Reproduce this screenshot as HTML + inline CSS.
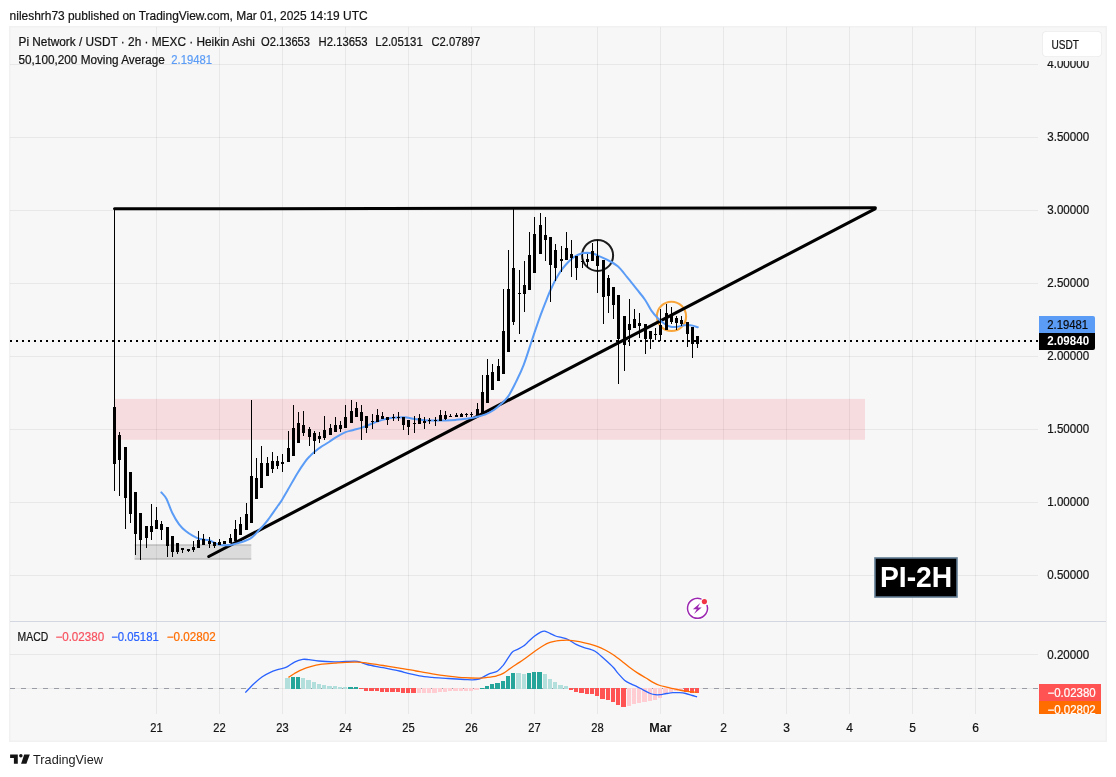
<!DOCTYPE html>
<html lang="en"><head><meta charset="utf-8"><title>Pi Network / USDT chart</title>
<style>html,body{margin:0;padding:0;background:#fff;}body{width:1116px;height:777px;overflow:hidden;font-family:"Liberation Sans", sans-serif;}svg{display:block}</style>
</head><body>
<svg width="1116" height="777" viewBox="0 0 1116 777" font-family='"Liberation Sans", sans-serif'>
<rect width="1116" height="777" fill="#fff"/>
<text x="9.6" y="19.6" font-size="13" fill="#141414" textLength="358" lengthAdjust="spacingAndGlyphs" stroke="#141414" stroke-width="0.22" >nileshrh73 published on TradingView.com, Mar 01, 2025 14:19 UTC</text>
<rect x="9" y="26" width="1098" height="716" fill="#f1f1f1"/>
<rect x="10.5" y="27.5" width="1095" height="713" fill="#f7f7f7"/>
<g shape-rendering="crispEdges" fill="#000" fill-opacity="0.06">
<rect x="156" y="27" width="1" height="594"/><rect x="156" y="622" width="1" height="92"/>
<rect x="219" y="27" width="1" height="594"/><rect x="219" y="622" width="1" height="92"/>
<rect x="282" y="27" width="1" height="594"/><rect x="282" y="622" width="1" height="92"/>
<rect x="345" y="27" width="1" height="594"/><rect x="345" y="622" width="1" height="92"/>
<rect x="408" y="27" width="1" height="594"/><rect x="408" y="622" width="1" height="92"/>
<rect x="471" y="27" width="1" height="594"/><rect x="471" y="622" width="1" height="92"/>
<rect x="534" y="27" width="1" height="594"/><rect x="534" y="622" width="1" height="92"/>
<rect x="597" y="27" width="1" height="594"/><rect x="597" y="622" width="1" height="92"/>
<rect x="660" y="27" width="1" height="594"/><rect x="660" y="622" width="1" height="92"/>
<rect x="723" y="27" width="1" height="594"/><rect x="723" y="622" width="1" height="92"/>
<rect x="786" y="27" width="1" height="594"/><rect x="786" y="622" width="1" height="92"/>
<rect x="849" y="27" width="1" height="594"/><rect x="849" y="622" width="1" height="92"/>
<rect x="912" y="27" width="1" height="594"/><rect x="912" y="622" width="1" height="92"/>
<rect x="975" y="27" width="1" height="594"/><rect x="975" y="622" width="1" height="92"/>
<rect x="10" y="64" width="1028" height="1"/>
<rect x="10" y="137" width="1028" height="1"/>
<rect x="10" y="210" width="1028" height="1"/>
<rect x="10" y="283" width="1028" height="1"/>
<rect x="10" y="356" width="1028" height="1"/>
<rect x="10" y="429" width="1028" height="1"/>
<rect x="10" y="502" width="1028" height="1"/>
<rect x="10" y="575" width="1028" height="1"/>
<rect x="10" y="654" width="1028" height="1"/><rect x="10" y="688" width="1028" height="1"/>
</g>
<rect x="10" y="621" width="1096" height="1" fill="#d4d7e1" shape-rendering="crispEdges"/>
<rect x="114.5" y="398.9" width="750.5" height="40.9" fill="#f23645" fill-opacity="0.14"/>
<rect x="134.6" y="544.2" width="116.7" height="15.6" fill="#000" fill-opacity="0.11"/>
<rect x="134.6" y="544.3" width="116.7" height="1.6" fill="#000" fill-opacity="0.12"/><rect x="134.6" y="558.1" width="116.7" height="1.6" fill="#000" fill-opacity="0.12"/>
<line x1="10" y1="341" x2="1039" y2="341" stroke="#000" stroke-width="2" stroke-dasharray="2 4" shape-rendering="crispEdges"/>
<circle cx="597.6" cy="255.4" r="15.5" fill="none" stroke="#1c1c1c" stroke-width="2"/>
<circle cx="671.5" cy="316.4" r="14.6" fill="none" stroke="#f8a63c" stroke-width="2.1"/>
<g stroke="#000" stroke-linecap="round" fill="none">
<line x1="114.5" y1="208.85" x2="875.4" y2="207.85" stroke-width="3"/>
<line x1="208.8" y1="556.5" x2="875" y2="208.9" stroke-width="3.1"/>
</g>
<path d="M161.3,492.4C162.2,493.5 164.6,495.4 166.4,498.8C168.2,502.2 170.1,508.5 172.2,512.7C174.3,517.0 176.8,521.2 179.1,524.3C181.4,527.4 183.7,529.4 186.0,531.3C188.3,533.2 190.7,534.6 193.0,535.9C195.3,537.2 197.3,538.3 200.0,539.0C202.7,539.7 206.9,539.6 209.3,540.3C211.7,541.0 212.9,542.3 214.6,543.0C216.3,543.7 217.5,544.3 219.3,544.7C221.1,545.1 223.4,545.3 225.4,545.3C227.4,545.3 229.5,545.1 231.6,544.8C233.7,544.4 235.7,543.8 237.8,543.2C239.9,542.6 241.9,542.1 244.0,541.3C246.1,540.5 248.4,539.7 250.2,538.6C252.0,537.5 253.3,536.2 254.8,534.7C256.3,533.2 257.8,531.4 259.4,529.7C260.9,528.0 262.6,526.5 264.1,524.7C265.7,522.9 267.2,521.0 268.7,518.9C270.2,516.8 271.8,514.6 273.3,512.4C274.8,510.2 276.5,507.8 277.9,505.8C279.3,503.8 280.1,502.9 281.8,500.2C283.5,497.5 285.4,494.1 288.0,489.6C290.6,485.1 294.5,478.0 297.3,473.4C300.1,468.8 302.8,464.8 305.0,461.8C307.2,458.8 308.8,457.3 310.4,455.6C312.0,453.9 312.9,453.2 314.6,451.8C316.3,450.4 318.3,448.8 320.7,447.2C323.1,445.6 326.4,443.7 329.0,442.0C331.6,440.3 333.4,438.8 336.2,437.2C338.9,435.6 342.8,433.4 345.5,432.2C348.2,431.0 350.0,431.0 352.7,430.2C355.4,429.4 358.6,428.7 361.9,427.6C365.1,426.5 368.8,424.8 372.2,423.5C375.6,422.2 379.1,420.8 382.5,419.9C385.9,418.9 389.4,418.2 392.8,417.8C396.2,417.4 400.5,417.2 403.1,417.2C405.7,417.2 406.4,417.5 408.3,417.8C410.2,418.1 411.8,418.6 414.5,419.0C417.2,419.4 421.4,420.0 424.8,420.2C428.2,420.4 431.7,420.4 435.1,420.4C438.5,420.4 442.0,420.5 445.4,420.4C448.8,420.3 452.3,420.2 455.7,419.9C459.1,419.6 462.6,419.3 466.0,418.8C469.4,418.3 473.1,417.7 476.3,417.0C479.6,416.3 482.6,415.6 485.5,414.4C488.4,413.2 491.2,411.7 493.8,410.0C496.4,408.3 498.6,406.3 501.0,404.0C503.4,401.7 505.7,400.1 508.2,396.4C510.7,392.7 513.4,387.1 516.0,381.9C518.6,376.6 521.0,372.0 523.7,364.9C526.4,357.8 530.0,346.0 532.2,339.5C534.4,333.0 535.2,330.4 536.8,325.8C538.4,321.2 540.2,316.1 541.9,311.6C543.6,307.1 545.4,302.5 546.9,298.8C548.4,295.1 549.3,292.8 550.8,289.5C552.3,286.2 554.1,282.4 555.8,279.3C557.5,276.2 559.2,273.4 560.9,270.9C562.6,268.4 564.3,266.4 566.0,264.5C567.7,262.6 569.5,260.8 571.2,259.3C572.9,257.8 574.6,256.7 576.3,255.7C578.0,254.7 579.8,254.0 581.5,253.5C583.2,253.0 584.6,252.8 586.6,252.8C588.6,252.9 591.6,253.3 593.5,253.8C595.4,254.3 595.8,254.6 598.0,255.6C600.2,256.6 603.7,257.9 607.0,259.7C610.3,261.5 614.4,263.4 617.8,266.3C621.1,269.2 624.0,273.4 627.1,277.1C630.2,280.8 633.3,284.9 636.3,288.7C639.3,292.5 642.5,296.0 645.0,299.7C647.5,303.4 649.2,307.5 651.4,310.6C653.5,313.7 656.0,316.3 657.9,318.3C659.8,320.3 661.4,321.6 663.0,322.8C664.6,324.0 666.0,325.0 667.5,325.7C669.0,326.4 670.4,326.8 672.0,327.0C673.6,327.2 675.5,327.0 677.2,326.8C678.9,326.6 680.6,325.9 682.3,325.6C684.0,325.3 685.8,325.1 687.5,325.1C689.2,325.1 690.9,325.2 692.6,325.6C694.3,326.0 696.9,327.0 697.8,327.3" fill="none" stroke="#5b9cf6" stroke-width="2" stroke-linejoin="round" stroke-linecap="round"/>
<g fill="#000" shape-rendering="crispEdges">
<rect x="114" y="209" width="1" height="282"/><rect x="113" y="407" width="3" height="57"/>
<rect x="119" y="432" width="1" height="64"/><rect x="118" y="435" width="3" height="25"/>
<rect x="125" y="447" width="1" height="82"/><rect x="124" y="447" width="3" height="51"/>
<rect x="130" y="472" width="1" height="51"/><rect x="129" y="472" width="3" height="42"/>
<rect x="135" y="492" width="1" height="63"/><rect x="134" y="492" width="3" height="42"/>
<rect x="140" y="513" width="1" height="47"/><rect x="139" y="513" width="3" height="27"/>
<rect x="146" y="526" width="1" height="22"/><rect x="145" y="526" width="3" height="12"/>
<rect x="151" y="504" width="1" height="36"/><rect x="150" y="526" width="3" height="6"/>
<rect x="156" y="507" width="1" height="22"/><rect x="155" y="520" width="3" height="9"/>
<rect x="161" y="521" width="1" height="19"/><rect x="160" y="524" width="3" height="6"/>
<rect x="167" y="527" width="1" height="30"/><rect x="166" y="527" width="3" height="19"/>
<rect x="172" y="536" width="1" height="21"/><rect x="171" y="536" width="3" height="16"/>
<rect x="177" y="543" width="1" height="11"/><rect x="176" y="543" width="3" height="9"/>
<rect x="182" y="548" width="1" height="5"/><rect x="181" y="548" width="3" height="2"/>
<rect x="188" y="549" width="1" height="3"/><rect x="187" y="549" width="3" height="2"/>
<rect x="193" y="541" width="1" height="11"/><rect x="192" y="547" width="3" height="3"/>
<rect x="198" y="531" width="1" height="17"/><rect x="197" y="540" width="3" height="8"/>
<rect x="203" y="534" width="1" height="11"/><rect x="202" y="539" width="3" height="6"/>
<rect x="209" y="537" width="1" height="11"/><rect x="208" y="541" width="3" height="3"/>
<rect x="214" y="542" width="1" height="6"/><rect x="213" y="542" width="3" height="4"/>
<rect x="219" y="539" width="1" height="6"/><rect x="218" y="542" width="3" height="3"/>
<rect x="224" y="541" width="1" height="3"/><rect x="223" y="541" width="3" height="3"/>
<rect x="230" y="534" width="1" height="9"/><rect x="229" y="538" width="3" height="5"/>
<rect x="235" y="520" width="1" height="21"/><rect x="234" y="529" width="3" height="12"/>
<rect x="240" y="517" width="1" height="18"/><rect x="239" y="524" width="3" height="11"/>
<rect x="246" y="503" width="1" height="27"/><rect x="245" y="514" width="3" height="16"/>
<rect x="251" y="400" width="1" height="123"/><rect x="250" y="476" width="3" height="47"/>
<rect x="256" y="458" width="1" height="41"/><rect x="255" y="478" width="3" height="21"/>
<rect x="261" y="446" width="1" height="42"/><rect x="260" y="463" width="3" height="25"/>
<rect x="267" y="457" width="1" height="19"/><rect x="266" y="463" width="3" height="13"/>
<rect x="272" y="452" width="1" height="21"/><rect x="271" y="461" width="3" height="8"/>
<rect x="277" y="456" width="1" height="13"/><rect x="276" y="461" width="3" height="5"/>
<rect x="282" y="454" width="1" height="18"/><rect x="281" y="462" width="3" height="2"/>
<rect x="288" y="431" width="1" height="31"/><rect x="287" y="448" width="3" height="14"/>
<rect x="293" y="405" width="1" height="51"/><rect x="292" y="428" width="3" height="28"/>
<rect x="298" y="412" width="1" height="31"/><rect x="297" y="423" width="3" height="20"/>
<rect x="303" y="411" width="1" height="25"/><rect x="302" y="425" width="3" height="8"/>
<rect x="309" y="427" width="1" height="19"/><rect x="308" y="429" width="3" height="8"/>
<rect x="314" y="431" width="1" height="23"/><rect x="313" y="433" width="3" height="8"/>
<rect x="319" y="432" width="1" height="11"/><rect x="318" y="436" width="3" height="3"/>
<rect x="324" y="416" width="1" height="24"/><rect x="323" y="430" width="3" height="8"/>
<rect x="330" y="424" width="1" height="11"/><rect x="329" y="428" width="3" height="7"/>
<rect x="335" y="417" width="1" height="15"/><rect x="334" y="425" width="3" height="7"/>
<rect x="340" y="421" width="1" height="11"/><rect x="339" y="425" width="3" height="4"/>
<rect x="345" y="405" width="1" height="23"/><rect x="344" y="417" width="3" height="11"/>
<rect x="351" y="400" width="1" height="23"/><rect x="350" y="411" width="3" height="12"/>
<rect x="356" y="402" width="1" height="15"/><rect x="355" y="408" width="3" height="9"/>
<rect x="361" y="405" width="1" height="35"/><rect x="360" y="412" width="3" height="9"/>
<rect x="366" y="416" width="1" height="17"/><rect x="365" y="416" width="3" height="12"/>
<rect x="372" y="414" width="1" height="15"/><rect x="371" y="421" width="3" height="1"/>
<rect x="377" y="409" width="1" height="13"/><rect x="376" y="415" width="3" height="7"/>
<rect x="382" y="412" width="1" height="7"/><rect x="381" y="416" width="3" height="3"/>
<rect x="387" y="417" width="1" height="8"/><rect x="386" y="417" width="3" height="3"/>
<rect x="393" y="414" width="1" height="7"/><rect x="392" y="417" width="3" height="1"/>
<rect x="398" y="412" width="1" height="9"/><rect x="397" y="417" width="3" height="1"/>
<rect x="403" y="417" width="1" height="13"/><rect x="402" y="417" width="3" height="8"/>
<rect x="408" y="420" width="1" height="15"/><rect x="407" y="420" width="3" height="7"/>
<rect x="414" y="416" width="1" height="17"/><rect x="413" y="423" width="3" height="1"/>
<rect x="419" y="414" width="1" height="10"/><rect x="418" y="418" width="3" height="6"/>
<rect x="424" y="417" width="1" height="12"/><rect x="423" y="421" width="3" height="2"/>
<rect x="429" y="418" width="1" height="6"/><rect x="428" y="420" width="3" height="1"/>
<rect x="435" y="417" width="1" height="9"/><rect x="434" y="420" width="3" height="1"/>
<rect x="440" y="410" width="1" height="11"/><rect x="439" y="415" width="3" height="6"/>
<rect x="445" y="411" width="1" height="9"/><rect x="444" y="415" width="3" height="4"/>
<rect x="450" y="414" width="1" height="3"/><rect x="449" y="416" width="3" height="1"/>
<rect x="456" y="413" width="1" height="4"/><rect x="455" y="415" width="3" height="2"/>
<rect x="461" y="413" width="1" height="4"/><rect x="460" y="414" width="3" height="3"/>
<rect x="466" y="413" width="1" height="4"/><rect x="465" y="414" width="3" height="1"/>
<rect x="471" y="412" width="1" height="5"/><rect x="470" y="414" width="3" height="1"/>
<rect x="477" y="403" width="1" height="12"/><rect x="476" y="409" width="3" height="6"/>
<rect x="482" y="375" width="1" height="39"/><rect x="481" y="392" width="3" height="22"/>
<rect x="487" y="359" width="1" height="44"/><rect x="486" y="375" width="3" height="28"/>
<rect x="492" y="364" width="1" height="26"/><rect x="491" y="372" width="3" height="18"/>
<rect x="498" y="359" width="1" height="22"/><rect x="497" y="366" width="3" height="15"/>
<rect x="503" y="289" width="1" height="85"/><rect x="502" y="331" width="3" height="43"/>
<rect x="508" y="250" width="1" height="102"/><rect x="507" y="289" width="3" height="63"/>
<rect x="513" y="209" width="1" height="116"/><rect x="512" y="268" width="3" height="54"/>
<rect x="519" y="270" width="1" height="64"/><rect x="518" y="293" width="3" height="1"/>
<rect x="524" y="261" width="1" height="51"/><rect x="523" y="285" width="3" height="9"/>
<rect x="529" y="232" width="1" height="58"/><rect x="528" y="255" width="3" height="35"/>
<rect x="534" y="217" width="1" height="56"/><rect x="533" y="234" width="3" height="39"/>
<rect x="540" y="213" width="1" height="41"/><rect x="539" y="225" width="3" height="29"/>
<rect x="545" y="217" width="1" height="44"/><rect x="544" y="235" width="3" height="5"/>
<rect x="550" y="237" width="1" height="65"/><rect x="549" y="237" width="3" height="28"/>
<rect x="555" y="244" width="1" height="37"/><rect x="554" y="250" width="3" height="18"/>
<rect x="561" y="246" width="1" height="26"/><rect x="560" y="259" width="3" height="2"/>
<rect x="566" y="232" width="1" height="28"/><rect x="565" y="248" width="3" height="12"/>
<rect x="571" y="240" width="1" height="37"/><rect x="570" y="254" width="3" height="4"/>
<rect x="576" y="256" width="1" height="24"/><rect x="575" y="256" width="3" height="12"/>
<rect x="582" y="254" width="1" height="14"/><rect x="581" y="261" width="3" height="1"/>
<rect x="587" y="254" width="1" height="14"/><rect x="586" y="259" width="3" height="3"/>
<rect x="592" y="243" width="1" height="18"/><rect x="591" y="251" width="3" height="10"/>
<rect x="597" y="240" width="1" height="53"/><rect x="596" y="256" width="3" height="10"/>
<rect x="603" y="260" width="1" height="64"/><rect x="602" y="260" width="3" height="37"/>
<rect x="608" y="275" width="1" height="38"/><rect x="607" y="278" width="3" height="18"/>
<rect x="613" y="287" width="1" height="32"/><rect x="612" y="287" width="3" height="18"/>
<rect x="618" y="295" width="1" height="89"/><rect x="617" y="295" width="3" height="44"/>
<rect x="624" y="316" width="1" height="55"/><rect x="623" y="316" width="3" height="29"/>
<rect x="629" y="299" width="1" height="47"/><rect x="628" y="324" width="3" height="6"/>
<rect x="634" y="309" width="1" height="19"/><rect x="633" y="319" width="3" height="9"/>
<rect x="639" y="313" width="1" height="25"/><rect x="638" y="323" width="3" height="3"/>
<rect x="645" y="324" width="1" height="30"/><rect x="644" y="324" width="3" height="15"/>
<rect x="650" y="331" width="1" height="18"/><rect x="649" y="331" width="3" height="8"/>
<rect x="655" y="328" width="1" height="12"/><rect x="654" y="334" width="3" height="1"/>
<rect x="660" y="309" width="1" height="32"/><rect x="659" y="325" width="3" height="10"/>
<rect x="666" y="304" width="1" height="26"/><rect x="665" y="313" width="3" height="17"/>
<rect x="671" y="307" width="1" height="17"/><rect x="670" y="314" width="3" height="8"/>
<rect x="676" y="316" width="1" height="14"/><rect x="675" y="318" width="3" height="5"/>
<rect x="681" y="316" width="1" height="10"/><rect x="680" y="320" width="3" height="4"/>
<rect x="687" y="322" width="1" height="25"/><rect x="686" y="322" width="3" height="12"/>
<rect x="692" y="327" width="1" height="31"/><rect x="691" y="327" width="3" height="17"/>
<rect x="697" y="336" width="1" height="12"/><rect x="696" y="336" width="3" height="8"/>
</g>
<text x="18.5" y="46.1" font-size="12" fill="#141414" textLength="236.5" lengthAdjust="spacingAndGlyphs" stroke="#141414" stroke-width="0.22" >Pi Network / USDT · 2h · MEXC · Heikin Ashi</text>
<text x="261" y="46.1" font-size="12" fill="#141414" textLength="49" lengthAdjust="spacingAndGlyphs" stroke="#141414" stroke-width="0.22" >O2.13653</text>
<text x="318.6" y="46.1" font-size="12" fill="#141414" textLength="49" lengthAdjust="spacingAndGlyphs" stroke="#141414" stroke-width="0.22" >H2.13653</text>
<text x="375.3" y="46.1" font-size="12" fill="#141414" textLength="47.5" lengthAdjust="spacingAndGlyphs" stroke="#141414" stroke-width="0.22" >L2.05131</text>
<text x="431.5" y="46.1" font-size="12" fill="#141414" textLength="48.7" lengthAdjust="spacingAndGlyphs" stroke="#141414" stroke-width="0.22" >C2.07897</text>
<text x="18.5" y="63.6" font-size="12" fill="#141414" textLength="146.3" lengthAdjust="spacingAndGlyphs" stroke="#141414" stroke-width="0.22" >50,100,200 Moving Average</text>
<text x="171.3" y="63.6" font-size="12" fill="#5b9cf6" textLength="40.7" lengthAdjust="spacingAndGlyphs" stroke="#5b9cf6" stroke-width="0.22" >2.19481</text>
<text x="1047.3" y="68.2" font-size="12" fill="#141414" textLength="41.8" lengthAdjust="spacingAndGlyphs" stroke="#141414" stroke-width="0.22" >4.00000</text>
<text x="1047.3" y="141.2" font-size="12" fill="#141414" textLength="41.8" lengthAdjust="spacingAndGlyphs" stroke="#141414" stroke-width="0.22" >3.50000</text>
<text x="1047.3" y="214.2" font-size="12" fill="#141414" textLength="41.8" lengthAdjust="spacingAndGlyphs" stroke="#141414" stroke-width="0.22" >3.00000</text>
<text x="1047.3" y="287.2" font-size="12" fill="#141414" textLength="41.8" lengthAdjust="spacingAndGlyphs" stroke="#141414" stroke-width="0.22" >2.50000</text>
<text x="1047.3" y="360.2" font-size="12" fill="#141414" textLength="41.8" lengthAdjust="spacingAndGlyphs" stroke="#141414" stroke-width="0.22" >2.00000</text>
<text x="1047.3" y="433.2" font-size="12" fill="#141414" textLength="41.8" lengthAdjust="spacingAndGlyphs" stroke="#141414" stroke-width="0.22" >1.50000</text>
<text x="1047.3" y="506.2" font-size="12" fill="#141414" textLength="41.8" lengthAdjust="spacingAndGlyphs" stroke="#141414" stroke-width="0.22" >1.00000</text>
<text x="1047.3" y="579.2" font-size="12" fill="#141414" textLength="41.8" lengthAdjust="spacingAndGlyphs" stroke="#141414" stroke-width="0.22" >0.50000</text>
<text x="1047.3" y="658.5" font-size="12" fill="#141414" textLength="41.8" lengthAdjust="spacingAndGlyphs" stroke="#141414" stroke-width="0.22" >0.20000</text>
<rect x="1040" y="29" width="64" height="32" fill="#f7f7f7"/>
<rect x="1042" y="31" width="60" height="26" rx="4.5" fill="#ebebeb"/>
<rect x="1042.8" y="31.8" width="58.4" height="24.4" rx="4" fill="#fff"/>
<text x="1051.4" y="49" font-size="12" fill="#141414" textLength="27.5" lengthAdjust="spacingAndGlyphs" stroke="#141414" stroke-width="0.22" >USDT</text>
<path d="M1039,316 h54 a2,2 0 0 1 2,2 v15 h-56z" fill="#5b9cf6"/>
<text x="1047.3" y="328.6" font-size="12" fill="#0b0b0b" textLength="40.8" lengthAdjust="spacingAndGlyphs" stroke="#0b0b0b" stroke-width="0.22" >2.19481</text>
<path d="M1039,333 h56 v15 a2,2 0 0 1 -2,2 h-54z" fill="#000"/>
<text x="1047.3" y="345.4" font-size="12" fill="#fff" font-weight="bold" textLength="41.8" lengthAdjust="spacingAndGlyphs" >2.09840</text>
<clipPath id="mc"><rect x="1038" y="622" width="68" height="92"/></clipPath>
<g clip-path="url(#mc)">
<rect x="1039" y="684" width="62" height="17" fill="#ff5252"/>
<text x="1047.5" y="696.6" font-size="12" fill="#fff" textLength="48.2" lengthAdjust="spacingAndGlyphs" stroke="#fff" stroke-width="0.22" >−0.02380</text>
<rect x="1039" y="701" width="62" height="17" fill="#ff6d00"/>
<text x="1047.5" y="713.6" font-size="12" fill="#fff" textLength="48.2" lengthAdjust="spacingAndGlyphs" stroke="#fff" stroke-width="0.22" >−0.02802</text>
</g>
<rect x="875" y="558" width="82" height="39" fill="#000" stroke="#5f7a92" stroke-width="1.6"/>
<text x="879.9" y="586.9" font-size="28.6" fill="#fff" font-weight="bold" textLength="72.4" lengthAdjust="spacingAndGlyphs" >PI-2H</text>
<g transform="translate(697.5,608.3)">
<circle r="11.6" fill="#fff"/>
<path d="M3.4,-9.4 A10,10 0 1 0 9.6,-2.8" fill="none" stroke="#9c27b0" stroke-width="1.5" stroke-linecap="round"/>
<path d="M2.7,-5.4 L-4.6,0.9 L-0.7,0.9 L-3.5,5.8 L4.2,-0.8 L0.3,-0.8 Z" fill="#9c27b0"/>
<circle cx="6.9" cy="-6.7" r="2.6" fill="#f23645"/>
</g>
<line x1="10" y1="688.5" x2="1039" y2="688.5" stroke="#9a9da6" stroke-width="1" stroke-dasharray="5 6" shape-rendering="crispEdges"/>
<g shape-rendering="crispEdges">
<rect x="285" y="678" width="5" height="11" fill="#b2dfdb"/>
<rect x="291" y="677" width="4" height="12" fill="#26a69a"/>
<rect x="296" y="677" width="4" height="12" fill="#26a69a"/>
<rect x="301" y="678" width="4" height="11" fill="#b2dfdb"/>
<rect x="306" y="680" width="5" height="9" fill="#b2dfdb"/>
<rect x="312" y="682" width="4" height="7" fill="#b2dfdb"/>
<rect x="317" y="684" width="4" height="5" fill="#b2dfdb"/>
<rect x="322" y="685" width="4" height="4" fill="#b2dfdb"/>
<rect x="327" y="686" width="5" height="3" fill="#b2dfdb"/>
<rect x="333" y="686" width="4" height="3" fill="#b2dfdb"/>
<rect x="338" y="687" width="4" height="2" fill="#b2dfdb"/>
<rect x="343" y="687" width="4" height="2" fill="#b2dfdb"/>
<rect x="348" y="687" width="5" height="2" fill="#26a69a"/>
<rect x="354" y="687" width="4" height="2" fill="#26a69a"/>
<rect x="359" y="688" width="4" height="1" fill="#ff5252"/>
<rect x="364" y="688" width="4" height="3" fill="#ff5252"/>
<rect x="369" y="688" width="5" height="3" fill="#ff5252"/>
<rect x="375" y="688" width="4" height="3" fill="#ff5252"/>
<rect x="380" y="688" width="4" height="4" fill="#ff5252"/>
<rect x="385" y="688" width="4" height="4" fill="#ff5252"/>
<rect x="390" y="688" width="5" height="4" fill="#ff5252"/>
<rect x="396" y="688" width="4" height="4" fill="#ff5252"/>
<rect x="401" y="688" width="4" height="5" fill="#ff5252"/>
<rect x="406" y="688" width="4" height="5" fill="#ff5252"/>
<rect x="411" y="688" width="5" height="5" fill="#ff5252"/>
<rect x="417" y="688" width="4" height="5" fill="#ffcdd2"/>
<rect x="422" y="688" width="4" height="5" fill="#ffcdd2"/>
<rect x="427" y="688" width="4" height="5" fill="#ffcdd2"/>
<rect x="432" y="688" width="5" height="5" fill="#ffcdd2"/>
<rect x="438" y="688" width="4" height="4" fill="#ffcdd2"/>
<rect x="443" y="688" width="4" height="4" fill="#ffcdd2"/>
<rect x="448" y="688" width="4" height="3" fill="#ffcdd2"/>
<rect x="453" y="688" width="5" height="3" fill="#ffcdd2"/>
<rect x="459" y="688" width="4" height="3" fill="#ffcdd2"/>
<rect x="464" y="688" width="4" height="3" fill="#ffcdd2"/>
<rect x="469" y="688" width="4" height="3" fill="#ffcdd2"/>
<rect x="474" y="688" width="5" height="2" fill="#ffcdd2"/>
<rect x="480" y="688" width="4" height="1" fill="#26a69a"/>
<rect x="485" y="686" width="4" height="3" fill="#26a69a"/>
<rect x="490" y="684" width="4" height="5" fill="#26a69a"/>
<rect x="495" y="683" width="5" height="6" fill="#26a69a"/>
<rect x="501" y="681" width="4" height="8" fill="#26a69a"/>
<rect x="506" y="676" width="4" height="13" fill="#26a69a"/>
<rect x="511" y="673" width="4" height="16" fill="#26a69a"/>
<rect x="516" y="673" width="5" height="16" fill="#b2dfdb"/>
<rect x="522" y="674" width="4" height="15" fill="#b2dfdb"/>
<rect x="527" y="673" width="4" height="16" fill="#26a69a"/>
<rect x="532" y="672" width="4" height="17" fill="#26a69a"/>
<rect x="537" y="672" width="5" height="17" fill="#26a69a"/>
<rect x="543" y="674" width="4" height="15" fill="#b2dfdb"/>
<rect x="548" y="679" width="4" height="10" fill="#b2dfdb"/>
<rect x="553" y="682" width="4" height="7" fill="#b2dfdb"/>
<rect x="558" y="685" width="5" height="4" fill="#b2dfdb"/>
<rect x="564" y="686" width="4" height="3" fill="#b2dfdb"/>
<rect x="569" y="688" width="4" height="2" fill="#ff5252"/>
<rect x="574" y="688" width="4" height="4" fill="#ff5252"/>
<rect x="579" y="688" width="5" height="5" fill="#ff5252"/>
<rect x="585" y="688" width="4" height="6" fill="#ff5252"/>
<rect x="590" y="688" width="4" height="6" fill="#ff5252"/>
<rect x="595" y="688" width="4" height="8" fill="#ff5252"/>
<rect x="600" y="688" width="5" height="11" fill="#ff5252"/>
<rect x="606" y="688" width="4" height="12" fill="#ff5252"/>
<rect x="611" y="688" width="4" height="14" fill="#ff5252"/>
<rect x="616" y="688" width="4" height="17" fill="#ff5252"/>
<rect x="621" y="688" width="5" height="19" fill="#ff5252"/>
<rect x="627" y="688" width="4" height="18" fill="#ffcdd2"/>
<rect x="632" y="688" width="4" height="16" fill="#ffcdd2"/>
<rect x="637" y="688" width="4" height="15" fill="#ffcdd2"/>
<rect x="642" y="688" width="5" height="14" fill="#ffcdd2"/>
<rect x="648" y="688" width="4" height="13" fill="#ffcdd2"/>
<rect x="653" y="688" width="4" height="12" fill="#ffcdd2"/>
<rect x="658" y="688" width="4" height="10" fill="#ffcdd2"/>
<rect x="663" y="688" width="5" height="6" fill="#ffcdd2"/>
<rect x="669" y="688" width="4" height="4" fill="#ffcdd2"/>
<rect x="674" y="688" width="4" height="3" fill="#ffcdd2"/>
<rect x="679" y="688" width="4" height="2" fill="#ffcdd2"/>
<rect x="684" y="688" width="5" height="4" fill="#ff5252"/>
<rect x="690" y="688" width="4" height="5" fill="#ff5252"/>
<rect x="695" y="688" width="4" height="5" fill="#ff5252"/>
</g>
<path d="M245.3,692.6C246.8,691.1 251.4,686.1 254.2,683.5C257.0,680.9 259.6,678.7 262.3,676.8C265.0,674.9 267.6,673.5 270.3,672.3C273.0,671.1 275.7,670.3 278.4,669.4C281.1,668.5 283.8,668.3 286.5,667.1C289.2,665.9 291.8,663.4 294.5,662.1C297.2,660.8 300.2,659.8 302.6,659.4C305.0,659.0 306.3,659.4 309.0,659.7C311.7,660.0 314.4,660.6 318.7,661.0C323.0,661.4 330.2,661.7 334.8,661.8C339.4,661.9 342.3,661.6 346.1,661.5C349.9,661.4 353.9,660.8 357.4,661.3C360.9,661.8 362.8,663.4 367.1,664.5C371.4,665.6 377.8,666.6 383.2,667.7C388.6,668.8 395.3,670.0 399.4,671.0C403.5,672.0 404.7,672.6 408.0,673.4C411.3,674.2 415.3,675.1 419.4,675.8C423.4,676.5 427.5,676.9 432.3,677.4C437.1,677.9 443.0,678.1 448.4,678.5C453.8,678.9 460.5,679.3 464.5,679.5C468.5,679.7 470.2,679.9 472.6,679.8C475.0,679.7 477.1,679.5 479.0,679.0C480.9,678.5 482.0,677.5 483.9,676.6C485.8,675.7 488.0,674.3 490.3,673.4C492.6,672.5 495.5,672.4 497.6,671.0C499.8,669.6 501.5,667.4 503.2,665.3C504.9,663.1 506.4,660.4 508.0,658.1C509.6,655.8 511.1,653.1 512.9,651.6C514.6,650.1 516.6,649.9 518.5,648.9C520.4,647.9 522.5,646.9 524.2,645.6C526.0,644.3 527.2,642.7 529.0,641.1C530.8,639.5 532.8,637.5 534.7,636.0C536.6,634.5 538.6,633.1 540.3,632.3C542.0,631.5 543.1,630.9 544.7,631.1C546.3,631.3 548.2,632.6 550.0,633.4C551.8,634.2 553.7,635.3 555.6,636.0C557.5,636.7 559.2,636.8 561.3,637.4C563.4,638.0 565.6,638.3 568.1,639.5C570.6,640.7 573.4,643.0 576.1,644.4C578.8,645.8 581.5,646.7 584.2,647.6C586.9,648.5 590.1,649.1 592.3,650.0C594.4,650.9 595.0,651.1 597.1,652.7C599.2,654.3 602.5,657.3 605.2,659.7C607.9,662.1 611.1,665.0 613.2,667.3C615.4,669.6 616.2,671.2 618.1,673.4C620.0,675.5 622.4,678.5 624.5,680.2C626.6,682.0 628.9,682.8 631.0,683.9C633.1,685.0 635.2,685.7 637.4,686.8C639.5,687.9 641.8,689.2 643.9,690.3C646.0,691.4 648.4,692.8 650.3,693.5C652.2,694.2 653.6,694.5 655.2,694.7C656.8,694.9 658.1,694.9 660.0,694.7C661.9,694.5 664.4,693.8 666.5,693.5C668.6,693.2 670.8,692.8 672.9,692.7C675.0,692.6 677.2,692.6 679.4,692.7C681.5,692.8 683.6,693.0 685.8,693.5C687.9,694.0 690.4,695.0 692.3,695.5C694.2,696.0 696.3,696.6 697.1,696.8" fill="none" stroke="#2962ff" stroke-width="1.3" stroke-linejoin="round"/>
<path d="M288.4,677.4C289.4,676.8 292.1,674.8 294.5,673.5C296.9,672.2 299.9,670.5 302.6,669.4C305.3,668.2 307.4,667.5 310.6,666.6C313.8,665.7 317.9,664.8 321.9,664.2C325.9,663.6 330.8,663.4 334.8,663.1C338.8,662.8 342.3,662.5 346.1,662.3C349.9,662.1 353.9,662.0 357.4,662.1C360.9,662.2 362.8,662.5 367.1,663.1C371.4,663.7 377.8,664.6 383.2,665.5C388.6,666.4 393.9,667.3 399.4,668.2C404.9,669.1 410.6,670.0 416.1,671.0C421.6,672.0 426.9,673.0 432.3,673.9C437.7,674.8 443.0,675.5 448.4,676.1C453.8,676.7 459.7,677.4 464.5,677.7C469.3,678.1 473.6,678.2 477.4,678.2C481.2,678.2 483.9,677.8 487.1,677.4C490.3,677.0 494.1,676.5 496.8,675.8C499.5,675.1 500.8,674.8 503.2,673.4C505.6,672.0 508.6,669.5 511.3,667.7C514.0,665.9 516.7,664.2 519.4,662.4C522.1,660.6 524.7,658.7 527.4,656.8C530.1,654.9 532.8,652.7 535.5,650.8C538.2,648.9 541.1,646.9 543.5,645.5C545.9,644.1 547.8,643.2 550.0,642.4C552.2,641.6 554.4,641.1 556.5,640.8C558.6,640.4 560.7,640.4 562.9,640.3C565.1,640.2 567.0,640.1 569.7,640.3C572.5,640.5 576.2,641.0 579.4,641.6C582.6,642.2 586.0,643.1 589.0,643.9C592.0,644.7 594.4,645.3 597.1,646.3C599.8,647.3 602.5,648.6 605.2,650.0C607.9,651.4 610.5,653.0 613.2,654.8C615.9,656.6 618.6,658.7 621.3,660.8C624.0,662.9 626.7,665.3 629.4,667.3C632.1,669.3 634.7,671.2 637.4,672.9C640.1,674.6 642.8,676.1 645.5,677.7C648.2,679.3 651.1,681.3 653.5,682.6C655.9,683.9 657.8,684.8 660.0,685.5C662.2,686.2 664.4,686.6 666.5,687.1C668.6,687.6 670.8,688.2 672.9,688.7C675.0,689.2 677.2,689.6 679.4,690.0C681.5,690.4 683.6,690.8 685.8,691.1C687.9,691.4 690.4,691.7 692.3,691.9C694.2,692.1 696.3,692.3 697.1,692.4" fill="none" stroke="#ff6d00" stroke-width="1.3" stroke-linejoin="round"/>
<text x="17.6" y="641.1" font-size="12" fill="#141414" textLength="30.6" lengthAdjust="spacingAndGlyphs" stroke="#141414" stroke-width="0.22" >MACD</text>
<text x="55.4" y="641.1" font-size="12" fill="#f7525f" textLength="48.8" lengthAdjust="spacingAndGlyphs" stroke="#f7525f" stroke-width="0.22" >−0.02380</text>
<text x="111.2" y="641.1" font-size="12" fill="#2962ff" textLength="47.6" lengthAdjust="spacingAndGlyphs" stroke="#2962ff" stroke-width="0.22" >−0.05181</text>
<text x="166.8" y="641.1" font-size="12" fill="#ff6d00" textLength="48.8" lengthAdjust="spacingAndGlyphs" stroke="#ff6d00" stroke-width="0.22" >−0.02802</text>
<text x="156.5" y="731.9" font-size="12" fill="#141414" textLength="12.4" lengthAdjust="spacingAndGlyphs" text-anchor="middle" stroke="#141414" stroke-width="0.22" >21</text>
<text x="219.5" y="731.9" font-size="12" fill="#141414" textLength="12.4" lengthAdjust="spacingAndGlyphs" text-anchor="middle" stroke="#141414" stroke-width="0.22" >22</text>
<text x="282.5" y="731.9" font-size="12" fill="#141414" textLength="12.4" lengthAdjust="spacingAndGlyphs" text-anchor="middle" stroke="#141414" stroke-width="0.22" >23</text>
<text x="345.5" y="731.9" font-size="12" fill="#141414" textLength="12.4" lengthAdjust="spacingAndGlyphs" text-anchor="middle" stroke="#141414" stroke-width="0.22" >24</text>
<text x="408.5" y="731.9" font-size="12" fill="#141414" textLength="12.4" lengthAdjust="spacingAndGlyphs" text-anchor="middle" stroke="#141414" stroke-width="0.22" >25</text>
<text x="471.5" y="731.9" font-size="12" fill="#141414" textLength="12.4" lengthAdjust="spacingAndGlyphs" text-anchor="middle" stroke="#141414" stroke-width="0.22" >26</text>
<text x="534.5" y="731.9" font-size="12" fill="#141414" textLength="12.4" lengthAdjust="spacingAndGlyphs" text-anchor="middle" stroke="#141414" stroke-width="0.22" >27</text>
<text x="597.5" y="731.9" font-size="12" fill="#141414" textLength="12.4" lengthAdjust="spacingAndGlyphs" text-anchor="middle" stroke="#141414" stroke-width="0.22" >28</text>
<text x="660.5" y="731.9" font-size="12" fill="#141414" font-weight="bold" textLength="22.3" lengthAdjust="spacingAndGlyphs" text-anchor="middle" >Mar</text>
<text x="723.5" y="731.9" font-size="12" fill="#141414" text-anchor="middle" stroke="#141414" stroke-width="0.22" >2</text>
<text x="786.5" y="731.9" font-size="12" fill="#141414" text-anchor="middle" stroke="#141414" stroke-width="0.22" >3</text>
<text x="849.5" y="731.9" font-size="12" fill="#141414" text-anchor="middle" stroke="#141414" stroke-width="0.22" >4</text>
<text x="912.5" y="731.9" font-size="12" fill="#141414" text-anchor="middle" stroke="#141414" stroke-width="0.22" >5</text>
<text x="975.5" y="731.9" font-size="12" fill="#141414" text-anchor="middle" stroke="#141414" stroke-width="0.22" >6</text>
<g fill="#141414">
<path d="M10.1,754.4 H17.8 V763.7 H13.9 V757.9 H10.1Z"/>
<circle cx="20.85" cy="755.75" r="1.75"/>
<path d="M24.2,754.4 H29.8 L26.4,763.7 H21.1Z"/>
</g>
<text x="33.1" y="763.8" font-size="12.6" fill="#1a1a1a" textLength="69.8" lengthAdjust="spacingAndGlyphs" >TradingView</text>
</svg>
</body></html>
